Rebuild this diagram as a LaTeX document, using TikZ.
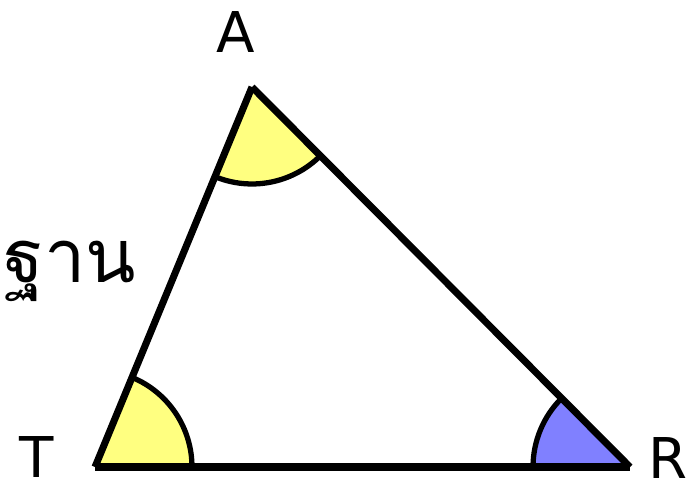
\documentclass[tikz,border=0pt]{standalone}
\usepackage{fontspec}
\setmainfont{DejaVu Sans}
\newfontfamily\thaifont[Script=Thai]{Loma}
\usetikzlibrary{angles}
\definecolor{mumgiallo}{HTML}{FFFF80}
\definecolor{mumblu}{HTML}{8080FF}
\begin{document}
\begin{tikzpicture}[
  x=0.02cm, y=0.02cm,
  lato/.style={draw=black, line width=4pt},
  angolo/.style={draw=black, line width=3pt, angle radius=1.94cm},
  vertice/.style={inner sep=0pt, font=\fontsize{32}{32}\selectfont}
]
\useasboundingbox (0,0) rectangle (690,484);

%--------------------------------------------------------------
% Vertici
%--------------------------------------------------------------
\coordinate (T) at (95,17);
\coordinate (A) at (252,397);
\coordinate (R) at (630,17);

%--------------------------------------------------------------
% Angoli
%--------------------------------------------------------------
\pic[angolo, fill=mumgiallo] {angle = T--A--R};
\pic[angolo, fill=mumgiallo] {angle = R--T--A};
\pic[angolo, fill=mumblu] {angle = A--R--T};

%--------------------------------------------------------------
% Lati
%--------------------------------------------------------------
\draw[lato] (T) -- (A);
\draw[lato] (A) -- (R);
\draw[lato] (T) -- (R);

%--------------------------------------------------------------
% Etichette
%--------------------------------------------------------------
\node[vertice] (etA) at (236,452) {A};
\node[vertice] (etT) at (37,27) {T};
\node[vertice] (etR) at (668,26) {R};
\node[vertice, font=\thaifont\fontsize{42}{42}\selectfont] (base) at (70,213) {ฐาน};

\end{tikzpicture}
\end{document}
